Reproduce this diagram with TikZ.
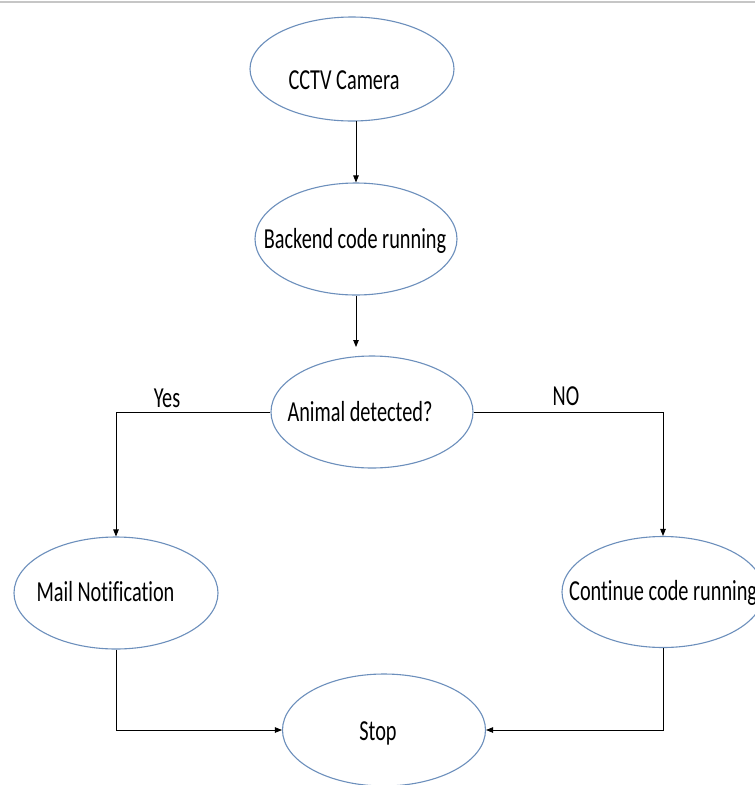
\documentclass[tikz,border=0pt]{standalone}
\usepackage{fontspec}
\setmainfont{Carlito}[FakeStretch=0.70,Ligatures={NoCommon}]
\usetikzlibrary{shapes.geometric,arrows.meta}
\definecolor{ovalblue}{RGB}{108,143,188}
\tikzset{
  oval/.style={ellipse,draw=ovalblue,line width=1.1pt,inner sep=0pt},
  lbl/.style={anchor=base,inner sep=0pt,font=\fontsize{29}{32}\selectfont},
  arr/.style={draw=black,line width=0.85pt,-{Triangle[length=7pt,width=5.5pt]}},
  conn/.style={draw=black,line width=0.85pt}
}
\begin{document}
\begin{tikzpicture}[x=1pt,y=-1pt]
\useasboundingbox (0,0) rectangle (755,785);
\clip (0,0) rectangle (755,785);
\fill[white] (0,0) rectangle (755,785);
\draw[gray!45,line width=2pt] (0,1.5) -- (755,1.5);
% ellipses
\node[oval,minimum width=204pt,minimum height=104pt] (cam) at (352,69) {};
\node[oval,minimum width=202pt,minimum height=112pt] (back) at (356,239) {};
\node[oval,minimum width=202pt,minimum height=112pt] (det) at (372,412) {};
\node[oval,minimum width=204pt,minimum height=112pt] (mail) at (116,593) {};
\node[oval,minimum width=202pt,minimum height=111pt] (cont) at (663,592) {};
\node[oval,minimum width=203pt,minimum height=112pt] (stop) at (384,730) {};
% texts
\node[lbl] (camt) at (344,89) {CCTV Camera};
\node[lbl] (backt) at (355,248) {Backend code running};
\node[lbl] (dett) at (360,421) {Animal detected?};
\node[lbl] (mailt) at (105.5,601) {Mail Notification};
\node[lbl,anchor=base west] (contt) at (569,600) {Continue code running};
\node[lbl] (stopt) at (378,740) {Stop};
\node[lbl] (yes) at (167,407) {Yes};
\node[lbl] (no) at (566,405) {NO};
% connectors
\coordinate (a1s) at (356,121);
\draw[arr] (a1s) -- (back.north);
\coordinate (a2e) at (356,347);
\draw[arr] (back.south) -- (a2e);
\draw[arr] (det.west) -| (mail.north);
\draw[arr] (det.east) -| (cont.north);
\draw[arr] (mail.south) |- (stop.west);
\draw[arr] (cont.south) |- (stop.east);
\end{tikzpicture}
\end{document}
